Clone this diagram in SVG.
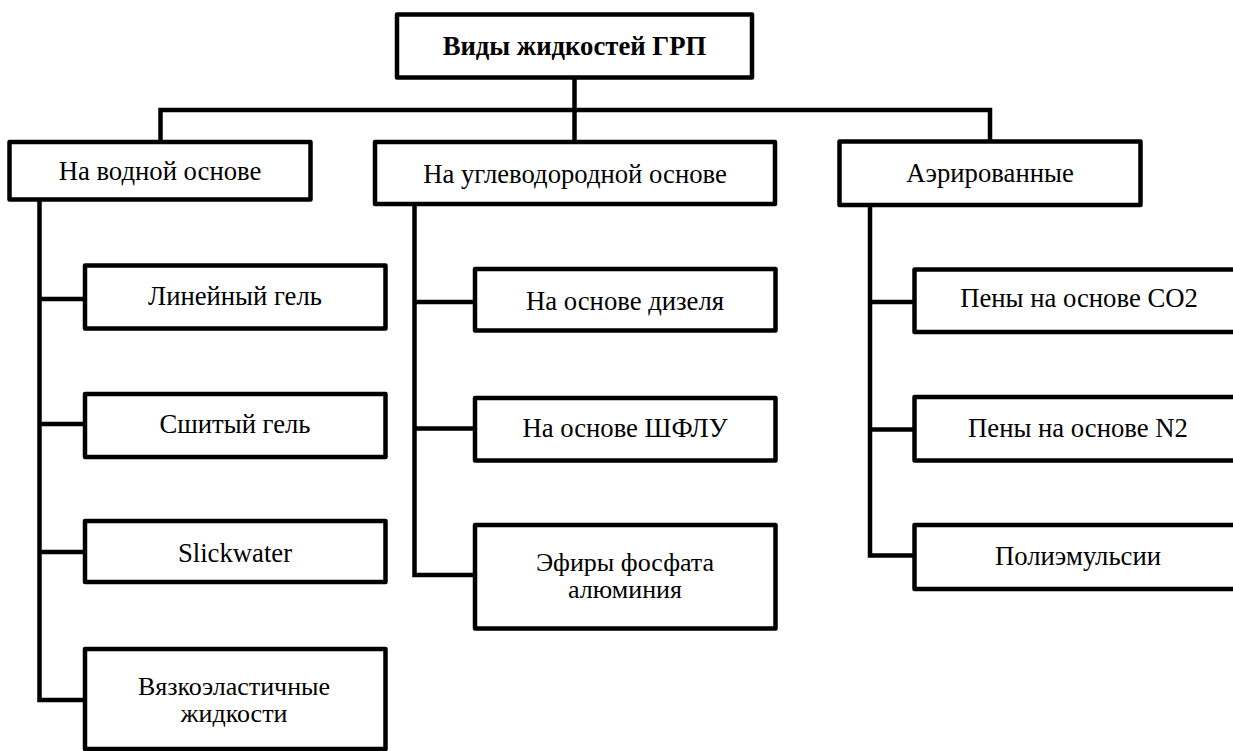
<svg xmlns="http://www.w3.org/2000/svg" width="1233" height="751" viewBox="0 0 1233 751">
<style>
.box{fill:#fff;stroke:#000;stroke-width:4.5;stroke-linejoin:round}
.ln{fill:none;stroke:#000;stroke-width:4.5;stroke-linecap:square}
.t text{font-size:26.7px;fill:#000;text-anchor:middle}
.t text.m{font-size:26px}
.b{font-weight:bold}
</style>
<rect width="1233" height="751" fill="#fff"/>
<g id="connectors">
<path class="ln" d="M574.5 77.5V142M160.5 110H990M160.5 110V142M990 110V141.5"/>
<path class="ln" d="M39.5 199.5V700M39.5 299H85M39.5 424H85M39.5 552H85M39.5 700H85"/>
<path class="ln" d="M414.5 204V575M414.5 302H475M414.5 428.5H475M414.5 575H475"/>
<path class="ln" d="M870 205V555.5M870 302H914.5M870 429.5H914.5M870 555.5H914.5"/>
</g>
<g class="t" font-family="Liberation Serif, Tinos, DejaVu Serif, serif">
<g id="root"><rect class="box" x="397" y="14.5" width="355" height="63"/><text class="b" x="574.5" y="55">Виды жидкостей ГРП</text></g>
<g id="water"><rect class="box" x="9.5" y="142" width="301" height="57.5"/><text x="160" y="180">На водной основе</text></g>
<g id="hydrocarbon"><rect class="box" x="375" y="142" width="400" height="62"/><text x="575" y="183">На углеводородной основе</text></g>
<g id="aerated"><rect class="box" x="839.5" y="141.5" width="301" height="63.5"/><text x="990" y="182">Аэрированные</text></g>
<g id="linear"><rect class="box" x="85" y="265.5" width="300.5" height="63"/><text x="235" y="305">Линейный гель</text></g>
<g id="crosslinked"><rect class="box" x="85" y="394" width="300.5" height="63"/><text x="235" y="433">Сшитый гель</text></g>
<g id="slickwater"><rect class="box" x="85" y="521" width="300.5" height="61"/><text x="235" y="562">Slickwater</text></g>
<g id="viscoelastic"><rect class="box" x="85" y="649" width="300.5" height="100"/><text class="m" x="234" y="695">Вязкоэластичные</text><text class="m" x="234" y="722">жидкости</text></g>
<g id="diesel"><rect class="box" x="475" y="269" width="300.5" height="61.5"/><text x="625" y="310">На основе дизеля</text></g>
<g id="ngl"><rect class="box" x="475" y="398" width="300.5" height="62.5"/><text x="625" y="437">На основе ШФЛУ</text></g>
<g id="phosphate"><rect class="box" x="475" y="525" width="300.5" height="103.5"/><text class="m" x="625" y="571">Эфиры фосфата</text><text class="m" x="625" y="598">алюминия</text></g>
<g id="co2"><rect class="box" x="914.5" y="269.5" width="330" height="62.5"/><text x="1079" y="307">Пены на основе CO2</text></g>
<g id="n2"><rect class="box" x="914.5" y="397" width="330" height="63.5"/><text x="1078" y="437">Пены на основе N2</text></g>
<g id="polyemulsion"><rect class="box" x="914.5" y="525" width="330" height="64"/><text x="1078" y="565">Полиэмульсии</text></g>
</g>
</svg>
